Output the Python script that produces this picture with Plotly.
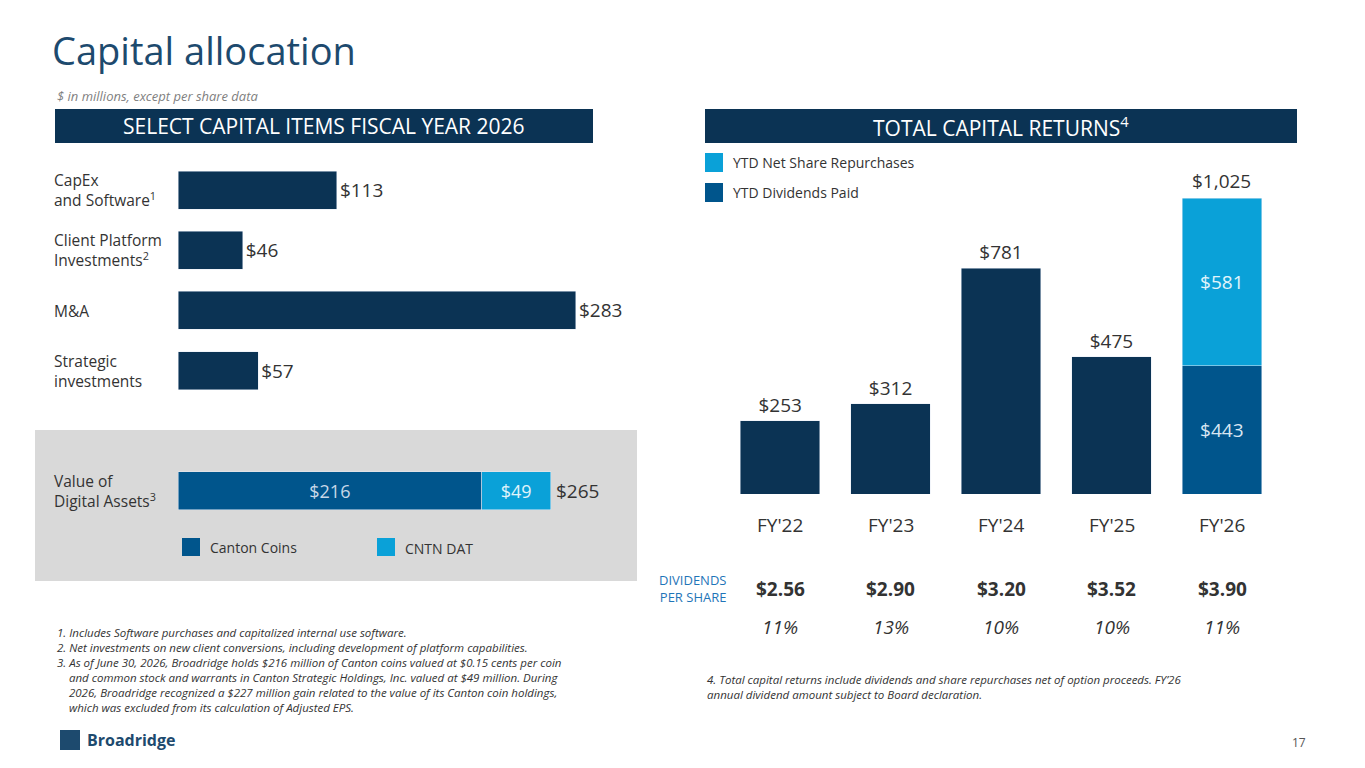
import plotly.graph_objects as go

W, H = 1365, 768
NAVY = "#0b3354"
MID = "#00558c"
LIGHT = "#0aa1d8"
FONT = "Open Sans"

# left chart data
items = ["CapEx", "Client", "M&A", "Strategic", "gap", "Digital"]
item_values = [113, 46, 283, 57]
item_labels = ["CapEx<br>and Software<sup>1</sup>", "Client Platform<br>Investments<sup>2</sup>",
               "M&A", "Strategic<br>investments"]
canton = 216
cntn = 49
digital_total = 265

# right chart data
years = ["FY'22", "FY'23", "FY'24", "FY'25", "FY'26"]
returns = [253, 312, 781, 475, None]
fy26_dividends = 443
fy26_repurchases = 581
fy26_total = 1025
dps = ["$2.56", "$2.90", "$3.20", "$3.52", "$3.90"]
dps_growth = ["11%", "13%", "10%", "10%", "11%"]

# page body has an 8px margin, so shift everything back by it
OFF = 8


def px(x):
    return (x - OFF) / W


def py(y):
    return 1 - (y - OFF) / H


fig = go.Figure()

# left bars
fig.add_trace(go.Bar(
    y=items[:4], x=item_values, orientation="h", marker_color=NAVY, width=0.63,
    text=["$%d" % v for v in item_values], textposition="outside",
    textfont=dict(size=19, color="#333333"), cliponaxis=False,
    xaxis="x", yaxis="y", showlegend=False, hoverinfo="skip"))
fig.add_trace(go.Bar(
    y=[items[5]], x=[canton], orientation="h", marker_color=MID, width=0.63,
    text=["$%d" % canton], textposition="inside", insidetextanchor="middle",
    textfont=dict(size=18, color="#c8d8e8"),
    xaxis="x", yaxis="y", showlegend=False, hoverinfo="skip"))
fig.add_trace(go.Bar(
    y=[items[5]], x=[cntn], orientation="h", marker_color=LIGHT, width=0.63,
    text=["$%d" % cntn], textposition="inside", insidetextanchor="middle",
    textfont=dict(size=18, color="#e0f4fb"),
    xaxis="x", yaxis="y", showlegend=False, hoverinfo="skip"))

# right bars
fig.add_trace(go.Bar(
    x=years[:4], y=returns[:4], marker_color=NAVY, width=0.72,
    text=["$%d" % v for v in returns[:4]], textposition="outside",
    textfont=dict(size=19, color="#333333"), cliponaxis=False,
    xaxis="x2", yaxis="y2", showlegend=False, hoverinfo="skip"))
fig.add_trace(go.Bar(
    x=[years[4]], y=[fy26_dividends], marker_color=MID, width=0.72,
    text=["$%d" % fy26_dividends], textposition="inside", insidetextanchor="middle",
    textfont=dict(size=19, color="#d8e6f2"),
    xaxis="x2", yaxis="y2", showlegend=False, hoverinfo="skip"))
fig.add_trace(go.Bar(
    x=[years[4]], y=[fy26_repurchases], marker_color=LIGHT, width=0.72,
    text=["$%d" % fy26_repurchases], textposition="inside", insidetextanchor="middle",
    textfont=dict(size=19, color="#e0f4fb"),
    xaxis="x2", yaxis="y2", showlegend=False, hoverinfo="skip"))

ann = []


def text(x, y, s, size=14, color="#333333", xanchor="left", yanchor="middle", **kw):
    ann.append(dict(x=px(x), y=py(y), xref="paper", yref="paper", text=s, showarrow=False,
                    xanchor=xanchor, yanchor=yanchor, font=dict(size=size, color=color, family=FONT),
                    align=xanchor if xanchor != "center" else "center", **kw))


# left annotations
for lbl, yy in zip(item_labels, [190, 250, 311, 371]):
    text(52, yy, lbl, size=15.5)
text(52, 491, "Value of<br>Digital Assets<sup>3</sup>", size=15.5)
ann.append(dict(x=digital_total, y=items[5], xref="x", yref="y", text="$%d" % digital_total,
                showarrow=False, xanchor="left", xshift=3,
                font=dict(size=19, color="#333333", family=FONT)))
# right totals
ann.append(dict(x=years[4], y=fy26_total, xref="x2", yref="y2", text="$1,025", showarrow=False,
                yanchor="bottom", yshift=2, font=dict(size=19, color="#333333", family=FONT)))
for i, yr in enumerate(years):
    xc = 780 + i * 110.5
    text(xc, 525, yr, size=19, xanchor="center")
    text(xc, 589, "<b>%s</b>" % dps[i], size=19, xanchor="center")
    text(xc, 627, "<i>%s</i>" % dps_growth[i], size=19, xanchor="center")
text(728, 588, "DIVIDENDS<br>PER SHARE", size=13, color="#1f75b8", xanchor="right")

# titles and headers
text(50, 50, "Capital allocation", size=38, color="#1d4a6e")
text(55, 96, "<i>$ in millions, except per share data</i>", size=13, color="#7f7f7f")
text(324, 126, "SELECT CAPITAL ITEMS FISCAL YEAR 2026", size=21, color="white", xanchor="center")
text(1001, 126, "TOTAL CAPITAL RETURNS<sup>4</sup>", size=21, color="white", xanchor="center")

# legends
text(731, 163, "YTD Net Share Repurchases", size=14)
text(731, 193, "YTD Dividends Paid", size=14)
text(208, 547, "Canton Coins", size=14)
text(403, 548, "CNTN DAT", size=14)

# footnotes
text(55, 670, "<i>1. Includes Software purchases and capitalized internal use software.<br>"
     "2. Net investments on new client conversions, including development of platform capabilities.<br>"
     "3. As of June 30, 2026, Broadridge holds $216 million of Canton coins valued at $0.15 cents per coin<br>"
     "    and common stock and warrants in Canton Strategic Holdings, Inc. valued at $49 million. During<br>"
     "    2026, Broadridge recognized a $227 million gain related to the value of its Canton coin holdings,<br>"
     "    which was excluded from its calculation of Adjusted EPS.</i>", size=11.5)
text(705, 687, "<i>4. Total capital returns include dividends and share repurchases net of option proceeds. FY’26<br>"
     "annual dividend amount subject to Board declaration.</i>", size=11.5)
text(85, 740, "<b>Broadridge</b>", size=16, color="#1d4a6e")
text(1308, 742, "17", size=12, color="#555555", xanchor="right")


def rect(x0, y0, x1, y1, color):
    return dict(type="rect", xref="paper", yref="paper", x0=px(x0), x1=px(x1), y0=py(y1), y1=py(y0),
                fillcolor=color, line_width=0, layer="below")


shapes = [
    rect(35, 430, 637, 581, "#d9d9d9"),
    rect(55, 109, 593, 143, NAVY),
    rect(705, 109, 1297, 143, NAVY),
    rect(705, 153, 723, 172, LIGHT),
    rect(705, 183, 723, 202, MID),
    rect(182, 538, 200, 556, MID),
    rect(377, 538, 395, 556, LIGHT),
    rect(60, 730, 80, 750, "#1d4a6e"),
]

fig.update_layout(
    width=W, height=H, margin=dict(l=0, r=0, t=0, b=0),
    paper_bgcolor="white", plot_bgcolor="rgba(0,0,0,0)",
    barmode="stack", font=dict(family=FONT),
    annotations=ann, shapes=shapes,
    xaxis=dict(domain=[px(178), px(178 + 300 * 1.406)], range=[0, 300], visible=False),
    yaxis=dict(domain=[py(521), py(160)], categoryorder="array", categoryarray=items[::-1],
               range=[-0.5, 5.5], visible=False),
    xaxis2=dict(domain=[px(725), px(1277)], visible=False),
    yaxis2=dict(domain=[py(494), py(494 - 1100 * 0.289)], range=[0, 1100], visible=False),
)

fig.write_html("out.html")
